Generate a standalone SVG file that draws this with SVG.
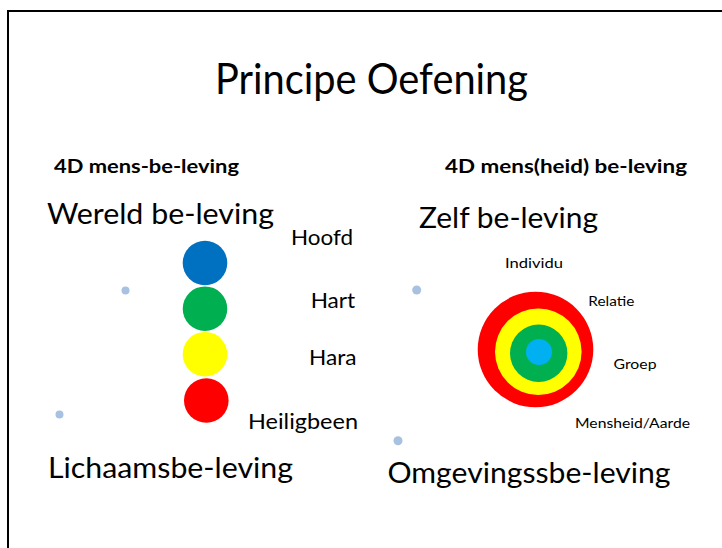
<svg xmlns="http://www.w3.org/2000/svg" width="722" height="548" viewBox="0 0 722 548">
<style>
text{font-family:Lato,"Open Sans","Liberation Sans",sans-serif;fill:#000}
.b{font-weight:bold;font-size:18px}
.big{font-size:29px}
.mid{font-size:21.5px}
.sm{font-size:13.5px}
.dot{fill:#a9c1e0}
</style>
<rect width="722" height="548" fill="#fff"/>
<rect x="8" y="11" width="800" height="600" fill="none" stroke="#000" stroke-width="2"/>
<g id="title"><text x="215" y="93.5" font-size="42" textLength="313" lengthAdjust="spacingAndGlyphs">Principe Oefening</text></g>
<g id="left">
<text class="b" x="54" y="173.3" textLength="185" lengthAdjust="spacingAndGlyphs">4D mens-be-leving</text>
<text class="big" x="47" y="223.5" textLength="227" lengthAdjust="spacingAndGlyphs">Wereld be-leving</text>
<text class="mid" x="291" y="245.3" textLength="62" lengthAdjust="spacingAndGlyphs">Hoofd</text>
<text class="mid" x="310.7" y="307.5" textLength="44.5" lengthAdjust="spacingAndGlyphs">Hart</text>
<text class="mid" x="309" y="364.5" textLength="47.5" lengthAdjust="spacingAndGlyphs">Hara</text>
<text class="mid" x="248" y="428.5" textLength="110" lengthAdjust="spacingAndGlyphs">Heiligbeen</text>
<text class="big" x="48" y="477.5" textLength="245" lengthAdjust="spacingAndGlyphs">Lichaamsbe-leving</text>
<circle cx="205" cy="263" r="22.3" fill="#0070c0"/>
<circle cx="205" cy="308.7" r="22.3" fill="#00b050"/>
<circle cx="205" cy="354.2" r="22.3" fill="#ffff00"/>
<circle cx="206.3" cy="400.5" r="22.3" fill="#ff0000"/>
<circle class="dot" cx="125.5" cy="290.5" r="4"/>
<circle class="dot" cx="59.5" cy="414.5" r="4"/>
</g>
<g id="right">
<text class="b" x="445" y="173.3" textLength="242" lengthAdjust="spacingAndGlyphs">4D mens(heid) be-leving</text>
<text class="big" x="419" y="228" textLength="179" lengthAdjust="spacingAndGlyphs">Zelf be-leving</text>
<text class="sm" x="505" y="267.7" textLength="58" lengthAdjust="spacingAndGlyphs">Individu</text>
<text class="sm" x="588.3" y="306" textLength="46" lengthAdjust="spacingAndGlyphs">Relatie</text>
<text class="sm" x="613.5" y="369" textLength="43" lengthAdjust="spacingAndGlyphs">Groep</text>
<text class="sm" x="575" y="428.3" textLength="115" lengthAdjust="spacingAndGlyphs">Mensheid/Aarde</text>
<text class="big" x="387.5" y="483.3" textLength="283" lengthAdjust="spacingAndGlyphs">Omgevingssbe-leving</text>
<circle cx="535.5" cy="349.5" r="57.8" fill="#ff0000"/>
<circle cx="538.3" cy="351.7" r="43.3" fill="#ffff00"/>
<circle cx="538.7" cy="353.3" r="28.7" fill="#00b050"/>
<circle cx="539" cy="352" r="13" fill="#00b0f0"/>
<circle class="dot" cx="416.7" cy="290" r="4.5"/>
<circle class="dot" cx="398" cy="440.7" r="4.5"/>
</g>
<g id="connectors"/>
</svg>
